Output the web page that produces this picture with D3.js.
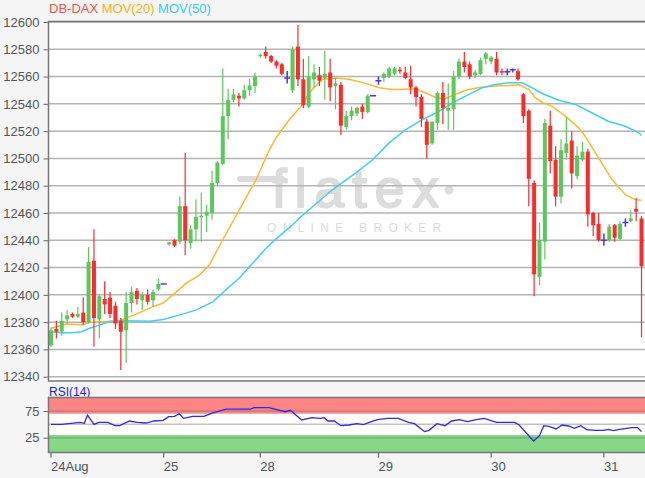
<!DOCTYPE html>
<html><head><meta charset="utf-8">
<script src="https://cdn.jsdelivr.net/npm/d3@7"></script>
<style>body{margin:0;background:#f5f5f5;} svg{display:block;font-family:"Liberation Sans",Arial,sans-serif;}</style>
</head><body><svg id="c" width="645" height="478"></svg>
<script>
// ---- data ----
const opens = [12363,12375,12373,12382,12386,12384,12387,12380,12425,12382,
12397,12398,12392,12381,12374,12394,12403,12396,12400,12396,
12404,12408,12437,12440,12439,12465,12438,12448,12457,12458,
12460,12482,12496,12531,12543,12546,12544,12550,12553,12575,
12578,12575,12571,12569,12559,12550,12582,12558,12538,12558,
12561,12559,12563,12553,12554,12523,12531,12533,12538,12534,
12546,12557,12559,12560,12562,12565,12563,12558,12552,12545,
12527,12511,12526,12548,12535,12536,12560,12571,12569,12561,
12562,12573,12571,12573,12564,12563.5,12565,12564,12547,12535,
12482,12413,12439,12524,12499,12472,12504,12513,12487,12499,
12505,12460,12452,12440,12440,12451,12441,12453,12454,12463,
12456];
const highs = [12376,12381,12387,12389,12387,12391,12398,12435,12448,12400,
12410,12402,12395,12383,12402,12406,12405,12402,12404,12404,
12412,12408,12439,12441,12472,12504,12451,12470,12475,12466,
12491,12498,12566,12551,12551,12548,12554,12558,12563,12577,
12582,12576,12572,12570,12564,12582,12598,12573,12575,12569,
12567,12579,12573,12559,12556,12535,12538,12538,12540,12547,
12546,12560,12563,12567,12567,12567,12567,12568,12553,12547,
12529,12527,12549,12556,12555,12564,12573,12578,12571,12565,
12574,12578,12575,12578,12566,12566,12566,12566,12548,12536,
12484,12453,12529,12535,12509,12514,12530,12520,12509,12512,
12507,12461,12460,12445,12452,12452,12454,12456,12462,12471,
12458];
const lows = [12362,12368,12370,12379,12383,12383,12378,12379,12362,12368,
12386,12383,12375,12345,12350,12387,12393,12389,12393,12391,
12403,12408,12436,12435,12437,12429,12434,12439,12439,12446,
12455,12480,12495,12514,12541,12538,12543,12546,12548,12574,
12573,12570,12566,12561,12555,12548,12553,12537,12537,12552,
12553,12543,12542,12536,12517,12521,12528,12531,12529,12533,
12546,12554,12556,12559,12561,12562,12558,12547,12538,12523,
12500,12510,12521,12525,12521,12521,12558,12563,12558,12559,
12561,12569,12569,12561,12561,12561,12563,12557,12526,12465,
12399,12407,12426,12489,12465,12467,12499,12478,12485,12498,
12450,12443,12439,12436,12439,12439,12440,12450,12453,12454,
12369];
const closes = [12374,12373,12381,12385,12384,12386,12380,12424,12383,12399,
12393,12386,12379,12373,12394,12402,12397,12400,12395,12402,
12408,12408,12438.5,12436,12465,12440,12448,12457,12458,12461,
12482,12497,12531,12543,12547,12544,12550,12553.5,12560,12576,
12575,12571,12568,12562,12559,12580,12558,12539,12560,12563,
12557,12562,12552,12555,12524,12531,12535,12537,12534,12546,
12546,12557,12562,12566,12566,12564,12559,12552,12545,12529,
12510,12527,12548,12537,12537,12560,12571,12567,12560,12563,
12572,12577,12574,12563,12563,12563.5,12565,12558,12531,12485,
12415,12440,12526,12498,12472,12506,12511,12489,12502,12505,
12459,12451,12440,12440,12450,12442,12452,12453,12456,12461,
12421];

const ma20Idx = [1,3.9,6.9,8.2,11.3,13.8,15.7,17.5,20,21.9,24.4,26.2,28.7,30.5,33,36.1,39.2,41.7,42.9,45.4,47.9,49.1,49.7,51.6,54.1,56.5,57.8,59.6,62.1,64.6,65.8,68.9,70.8,72.7,74.5,76.4,78.2,80.7,83.8,86.3,88.2,90,91.2,92.5,94.3,96.8,99.3,100.5,103,105.5,108,109.8,111];
const ma20Val = [12375.5,12378.7,12378,12379.7,12380.4,12381,12384,12387,12391.4,12394,12402.4,12408.6,12414.7,12422,12440.4,12462.4,12484.4,12506.5,12515,12528.5,12539.6,12548,12550.6,12558,12559,12558,12556.7,12555,12551.8,12550.6,12550.6,12551,12548,12544.5,12544,12547,12550,12552,12553,12553.5,12554,12550.6,12544.5,12541,12538.3,12531,12522.4,12516.3,12500.4,12484.5,12473.4,12469.8,12469.3];
const ma50Idx = [1,2.7,5.1,6.7,8.2,10.1,12,13.8,17.5,19.4,21.9,25,28.1,31.2,33.6,36.1,38.6,41.1,43.5,46,47.3,53.4,57.8,60.9,64,67.1,70.2,73.3,76.4,79.4,81.3,83.8,86.3,88.7,90.6,92.5,95.6,98.7,101.7,104.8,108,110.5,111];
const ma50Val = [12373,12372.3,12372.3,12373,12375.5,12378,12380.4,12381,12380.8,12380.6,12382,12385.3,12389,12395,12403.7,12412.3,12423.3,12434.3,12443,12451.4,12456.3,12477,12489.4,12499,12511.4,12521.2,12528.5,12534.6,12542,12548,12551.8,12554.2,12555.5,12555.5,12551.8,12547.6,12542.7,12539.6,12533.5,12527.3,12523.6,12518.8,12516.8];

const rsiIdx = [1,3,6.4,7.2,7.8,9,9.9,11.6,12.9,13.8,15.6,17.1,18.7,20.2,21.9,22.9,24,24.9,25.7,27.4,29.5,30.9,32,33.6,35.1,38.1,38.9,41.6,42.7,44.6,45.6,47.7,49.6,51.1,51.9,52.6,53.8,55,56.5,58,59.2,60.3,61.8,63.7,65.7,67.6,68.7,70.6,71.4,72.9,74.4,75.6,77.1,78.6,80.2,81.7,84,87.4,88.2,90.9,92,92.8,93.9,95.1,96.2,97.4,98.5,99.7,100.8,102.3,103.9,104.8,105.8,106.9,109.2,110.3,111];
const rsiVal = [50,50,53.8,52,67.5,50,53.8,53.8,47.5,47.5,56.3,53.8,52.5,56.3,57.5,64.4,65,70,61.3,65,65,70.6,73.7,78.7,78.7,78.7,81.2,81.2,78.7,73.7,76.3,58.2,62.5,61.3,62.5,56.3,56.3,47.5,48.8,51.2,49.4,53.8,58.7,61.3,61.3,53.8,51.2,36.3,38.8,51.2,47.5,56.3,58.7,55,58.7,61.3,53.8,53.8,48.8,18.8,28.7,47.5,45.6,41.3,48.8,46.9,42.5,47.5,40,38.8,38.8,40.6,38.1,40.6,43.7,43.7,36.3];

const dayLabels = ["24Aug","25","28","29","30","31"];
const dayStartIdx = [1,22,40,62,83,104];
const yTicks = [12340,12360,12380,12400,12420,12440,12460,12480,12500,12520,12540,12560,12580,12600];
const rsiTicks = [25,75];
const rsiGrid = [25,50,75];

// ---- layout ----
const svg = d3.select("#c");
const L = 48.5, R = 647, T = 21.5, B = 381;
const rT = 397.5, rB = 452.5;
const x = d3.scaleLinear().domain([1,111]).range([51,641.5]);
const y = d3.scaleLinear().domain([12340,12600]).range([376.7,22]);
const yr = d3.scaleLinear().domain([0,100]).range([451,397.7]);

svg.append("rect").attr("width",645).attr("height",478).attr("fill","#f5f5f5");
svg.append("rect").attr("x",L).attr("y",T).attr("width",R-L).attr("height",B-T).attr("fill","#fff");
svg.append("rect").attr("x",L).attr("y",rT).attr("width",R-L).attr("height",rB-rT).attr("fill","#fff");

const defs = svg.append("defs");
defs.append("clipPath").attr("id","cm").append("rect").attr("x",L).attr("y",T).attr("width",R-L).attr("height",B-T);
defs.append("clipPath").attr("id","cr").append("rect").attr("x",L).attr("y",rT).attr("width",R-L).attr("height",rB-rT);

// watermark
const wmc = "#dcdcdc";
const wm = svg.append("g").attr("clip-path","url(#cm)");
wm.append("line").attr("x1",240).attr("x2",282).attr("y1",179).attr("y2",179)
  .attr("stroke",wmc).attr("stroke-width",6).attr("stroke-linecap","round");
wm.append("text").attr("x",272).attr("y",207).attr("font-size",53).attr("letter-spacing",8)
  .attr("fill",wmc).attr("stroke",wmc).attr("stroke-width",2).attr("stroke-linejoin","round").text("flatex");
wm.append("circle").attr("cx",449).attr("cy",190).attr("r",4.5).attr("fill",wmc);
wm.append("text").attr("x",267).attr("y",232).attr("font-size",12).attr("letter-spacing",6.3)
  .attr("fill",wmc).text("ONLINE BROKER");

// grid
svg.append("g").selectAll("line").data(yTicks).join("line")
  .attr("x1",L).attr("x2",R).attr("y1",d=>y(d)).attr("y2",d=>y(d))
  .attr("stroke","#b4b4b4").attr("stroke-width",1.5);

// y axis
const ya = svg.append("g").attr("transform",`translate(${L},0)`)
  .call(d3.axisLeft(y).tickValues(yTicks).tickSize(5).tickPadding(4).tickFormat(d3.format("d")));
ya.select(".domain").remove();
ya.selectAll("line").attr("stroke","#666");
ya.selectAll("text").attr("font-size",13).attr("fill","#555").attr("font-family","Liberation Sans, Arial, sans-serif");

// MAs
const main = svg.append("g").attr("clip-path","url(#cm)");
const lineGen = d3.line().x(d=>x(d[0])).y(d=>y(d[1]));
main.append("path").datum(ma20Idx.map((d,i)=>[d,ma20Val[i]])).attr("d",lineGen)
  .attr("fill","none").attr("stroke","#ffb833").attr("stroke-width",1.5);
main.append("path").datum(ma50Idx.map((d,i)=>[d,ma50Val[i]])).attr("d",lineGen)
  .attr("fill","none").attr("stroke","#3fd0f0").attr("stroke-width",1.5);

// candles
const candles = opens.map((o,i)=>({i:i+1,o,h:highs[i],l:lows[i],c:closes[i]}));
const green = "#5cc85c", red = "#ff2b2b", doji = "#5533dd";
const cg = main.append("g");
candles.forEach(d=>{
  const cx = x(d.i);
  if (d.o === d.c) {
    if (d.h !== d.l) cg.append("line").attr("x1",cx).attr("x2",cx).attr("y1",y(d.h)).attr("y2",y(d.l)).attr("stroke",doji).attr("stroke-width",1.5);
    cg.append("line").attr("x1",cx-3).attr("x2",cx+3).attr("y1",y(d.c)).attr("y2",y(d.c)).attr("stroke",doji).attr("stroke-width",1.5);
    return;
  }
  const col = d.c > d.o ? green : red;
  cg.append("line").attr("x1",cx).attr("x2",cx).attr("y1",y(d.h)).attr("y2",y(d.l)).attr("stroke",col).attr("stroke-width",1.2);
  const top = y(Math.max(d.o,d.c)), bot = y(Math.min(d.o,d.c));
  cg.append("rect").attr("x",cx-2).attr("width",4).attr("y",top).attr("height",Math.max(1.5,bot-top)).attr("fill",col);
});

// frame main
svg.append("rect").attr("x",L).attr("y",T).attr("width",R-L).attr("height",B-T)
  .attr("fill","none").attr("stroke","#777").attr("stroke-width",1.5);

// legend
const lg = svg.append("text").attr("x",49).attr("y",13).attr("font-size",13);
lg.append("tspan").attr("fill","#ff5040").text("DB-DAX ");
lg.append("tspan").attr("fill","#ffb020").text("MOV(20) ");
lg.append("tspan").attr("fill","#30d0f8").text("MOV(50)");

// RSI panel
svg.append("text").attr("x",49).attr("y",395.5).attr("font-size",12).attr("fill","#2020ff").text("RSI(14)");
const rg = svg.append("g").attr("clip-path","url(#cr)");
rg.append("rect").attr("x",L).attr("width",R-L).attr("y",yr(100)).attr("height",yr(70)-yr(100)).attr("fill","#ff8585");
rg.append("rect").attr("x",L).attr("width",R-L).attr("y",yr(30)).attr("height",yr(0)-yr(30)+3).attr("fill","#86d886");
rg.selectAll("line.g").data(rsiGrid).join("line").attr("class","g")
  .attr("x1",L).attr("x2",R).attr("y1",d=>yr(d)).attr("y2",d=>yr(d))
  .attr("stroke","#777").attr("stroke-opacity",0.45).attr("stroke-width",1.5);
rg.append("path").datum(rsiIdx.map((d,i)=>[d,rsiVal[i]]))
  .attr("d",d3.line().x(d=>x(d[0])).y(d=>yr(d[1])))
  .attr("fill","none").attr("stroke","#2a2af0").attr("stroke-width",1.3);
svg.append("rect").attr("x",L).attr("y",rT).attr("width",R-L).attr("height",rB-rT)
  .attr("fill","none").attr("stroke","#777").attr("stroke-width",1.5);
const ra = svg.append("g").attr("transform",`translate(${L},0)`)
  .call(d3.axisLeft(yr).tickValues(rsiTicks).tickSize(5).tickPadding(4));
ra.select(".domain").remove();
ra.selectAll("line").attr("stroke","#666");
ra.selectAll("text").attr("font-size",13).attr("fill","#555").attr("font-family","Liberation Sans, Arial, sans-serif");

// x axis
const xg = svg.append("g");
xg.selectAll("line").data(dayStartIdx).join("line")
  .attr("x1",d=>x(d)).attr("x2",d=>x(d)).attr("y1",rB).attr("y2",rB+5)
  .attr("stroke","#666").attr("stroke-width",1.2);
xg.selectAll("text").data(dayStartIdx).join("text")
  .attr("x",d=>x(d)).attr("y",471).attr("font-size",13).attr("fill","#4a5560")
  .text((d,i)=>dayLabels[i]);
</script></body></html>
